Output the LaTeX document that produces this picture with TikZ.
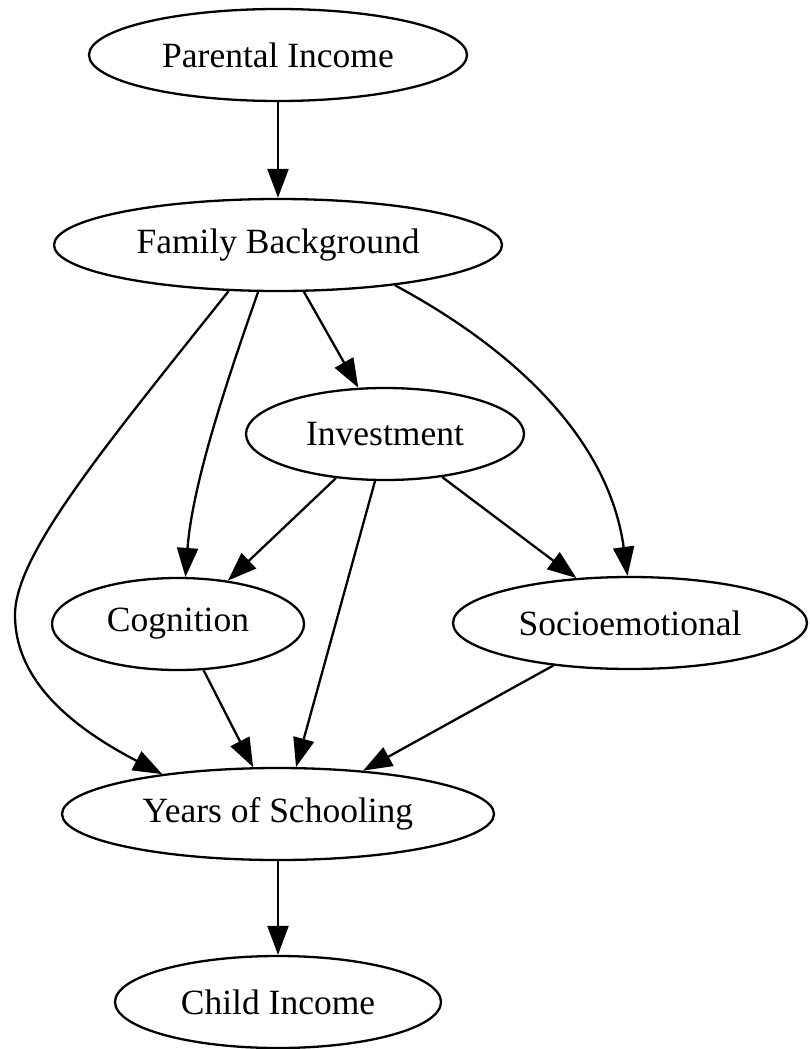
\documentclass[tikz,border=0pt]{standalone}
\usepackage{fontspec}
\setmainfont{Liberation Serif}
\usetikzlibrary{shapes.geometric,arrows.meta}
\begin{document}
\begin{tikzpicture}[x=1pt,y=1pt,
  gnode/.style={ellipse,draw,line width=2.3pt,inner sep=0pt,
    font=\fontsize{35.5}{40}\selectfont},
  edge/.style={line width=2.3pt,-{Triangle[length=29pt,width=21pt]}}]
\useasboundingbox (0,0) rectangle (809,-1049);
\node[gnode,minimum width=378,minimum height=92] (P) at (278,-55) {Parental Income};
\node[gnode,minimum width=448,minimum height=92] (F) at (278,-245) {Family Background};
\node[gnode,minimum width=278,minimum height=92] (I) at (385,-434) {Investment};
\node[gnode,minimum width=252,minimum height=92] (C) at (178,-624) {Cognition};
\node[gnode,minimum width=354,minimum height=92] (S) at (630,-623) {Socioemotional};
\node[gnode,minimum width=432,minimum height=92] (Y) at (278,-814) {Years of Schooling};
\node[gnode,minimum width=326,minimum height=92] (K) at (278,-1002) {Child Income};
\coordinate (fy) at (15,-615);

\draw[edge] (P) -- (F);
\draw[edge] (F.-61.6) -- (I.120.3);
\draw[edge] (F.-113.6) .. controls +(-27,-77) and +(7,96) .. (C.81.7);
\draw[edge] (F.223.8) .. controls +(-126,-158) and +(0,60) .. (fy)
  .. controls +(0,-60) and +(-100,52) .. (Y.161.6);
\draw[edge] (F.-19.6) .. controls +(137,-74) and +(-17,125) .. (S.93.6);
\draw[edge] (I.222) -- (C.41.5);
\draw[edge] (I.258) -- (Y.69);
\draw[edge] (I.-37) -- (S.140.9);
\draw[edge] (C.-61.5) -- (Y.118.2);
\draw[edge] (S.209.6) -- (Y.27.3);
\draw[edge] (Y) -- (K);
\end{tikzpicture}
\end{document}
